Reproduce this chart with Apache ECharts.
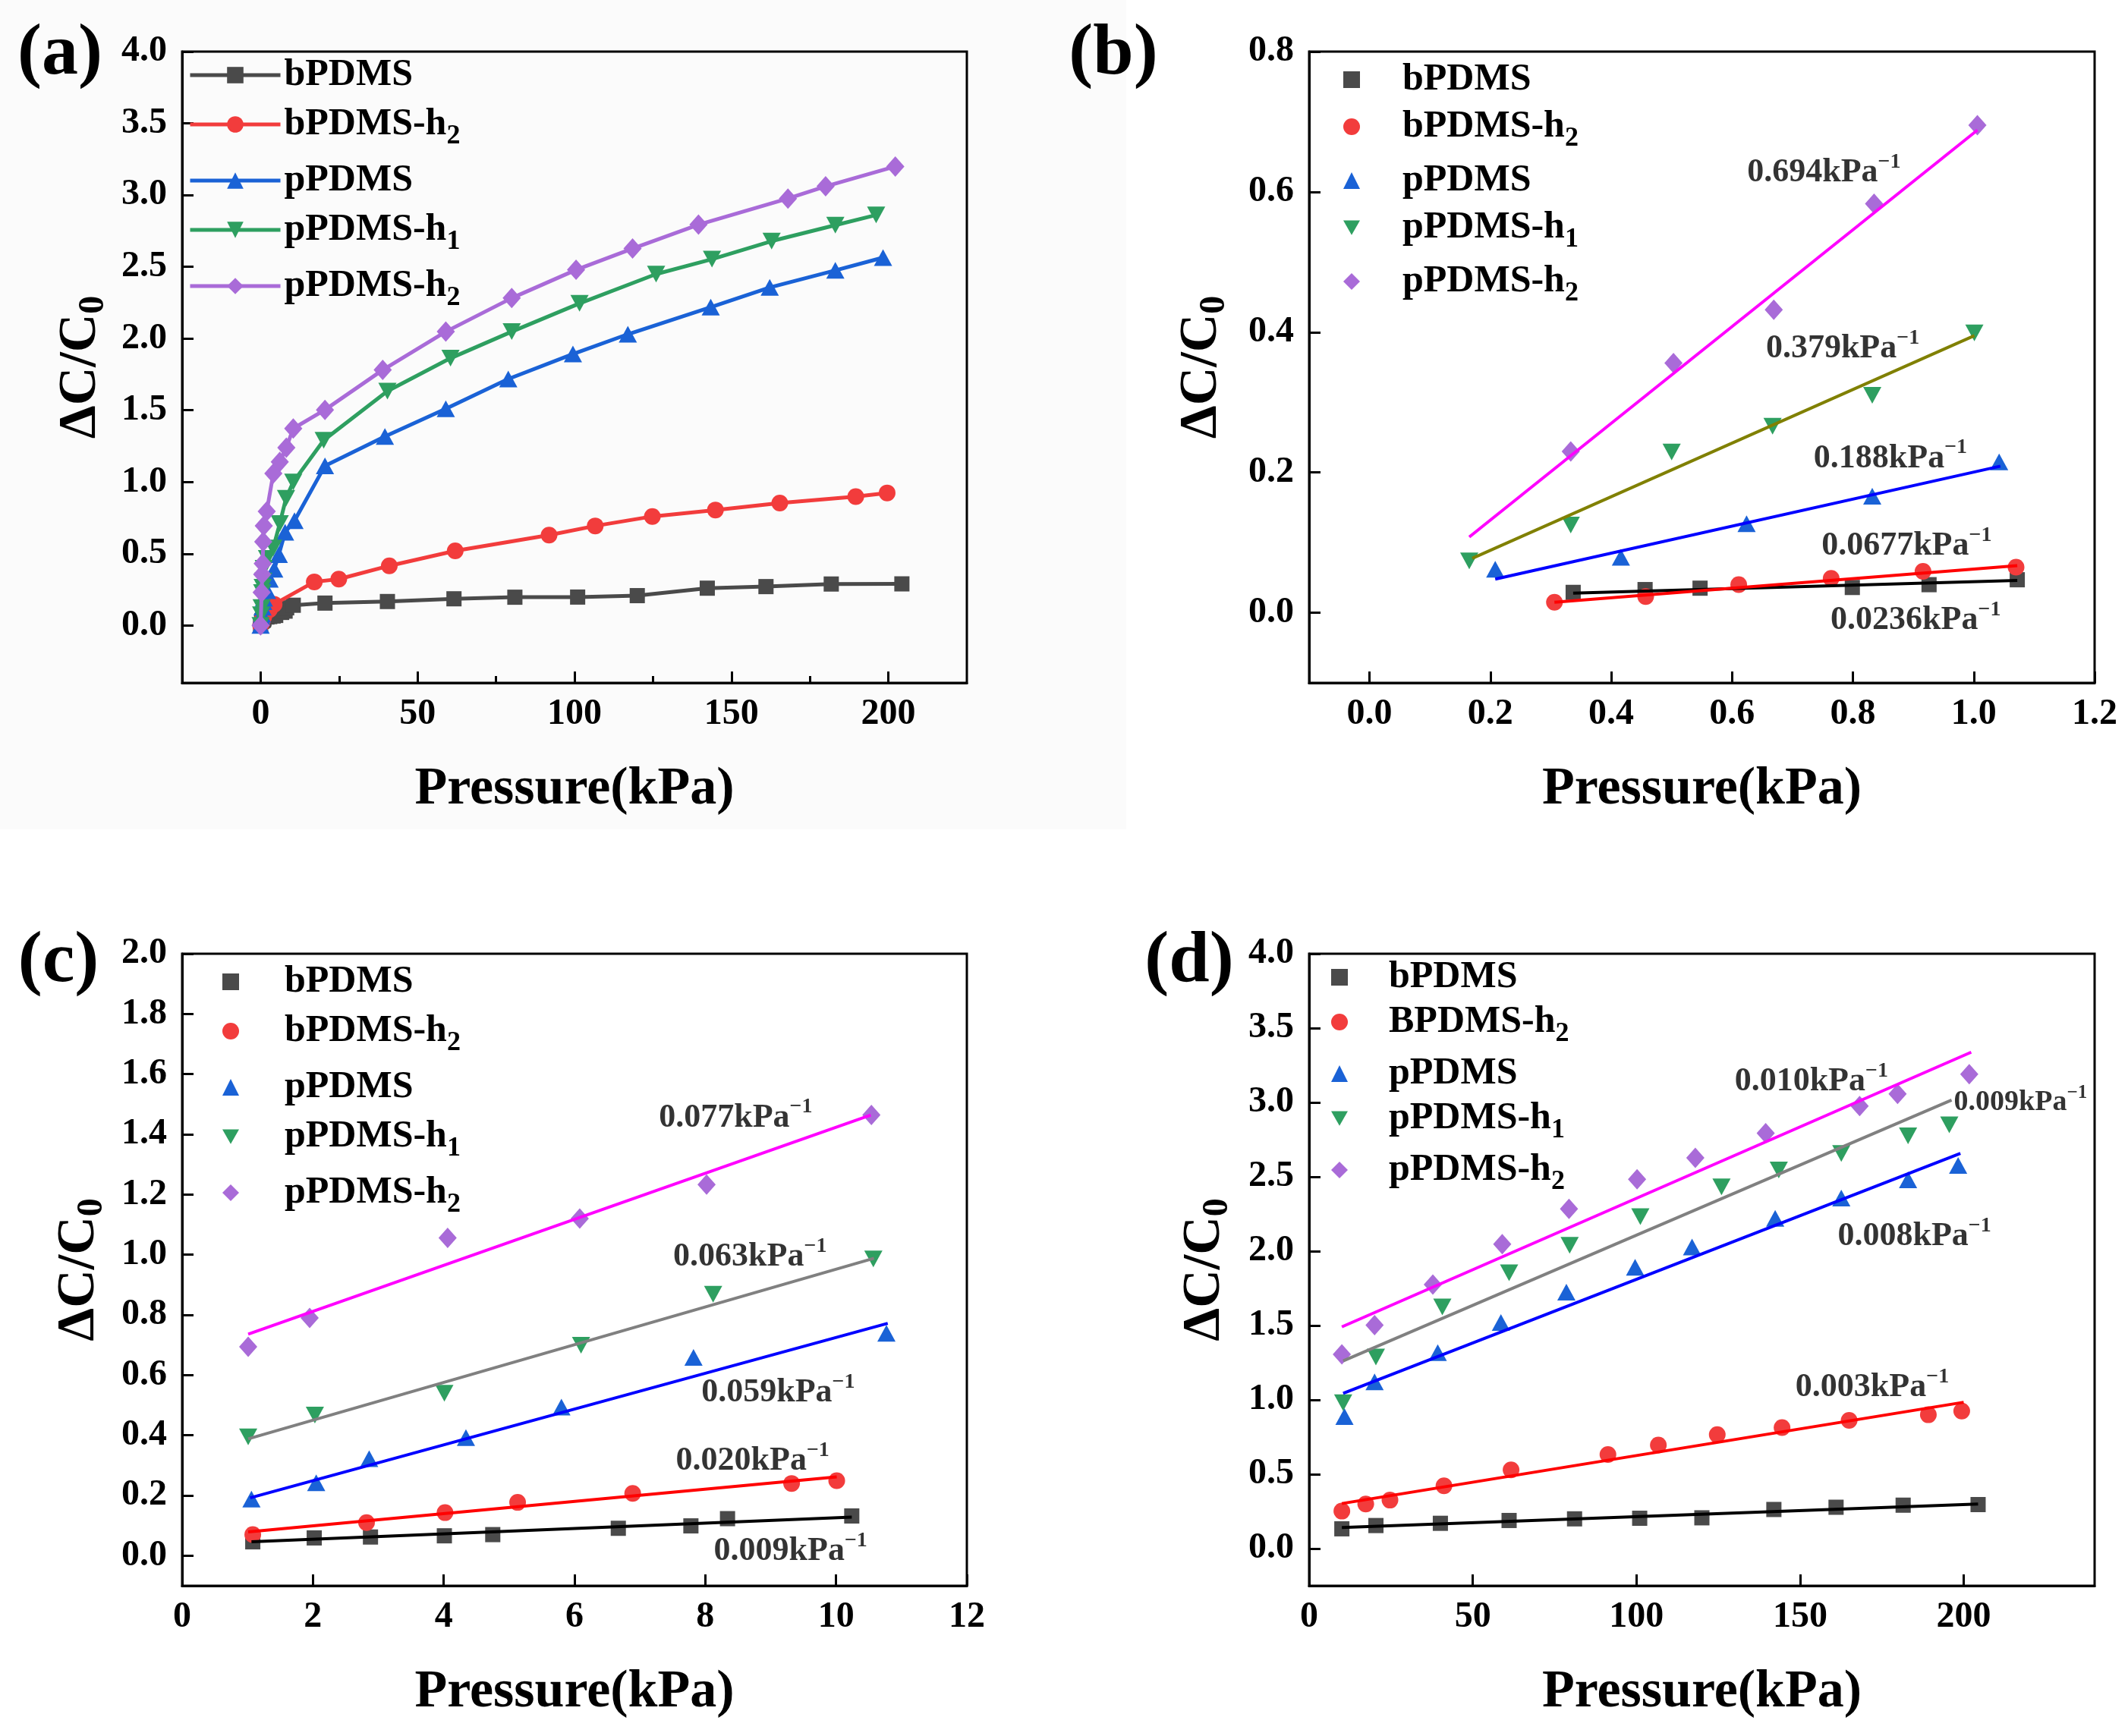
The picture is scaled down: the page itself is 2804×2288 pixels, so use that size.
<!DOCTYPE html>
<html>
<head>
<meta charset="utf-8">
<script src="https://cdn.jsdelivr.net/npm/echarts@6/dist/echarts.min.js"></script>
<style>
html, body { margin: 0; padding: 0; background: #fff; }
#chart { width: 2804px; height: 2288px; }
</style>
</head>
<body>
<div id="chart"></div>
<script>
var FONT = '"Liberation Serif", "Times New Roman", serif';

// series names, colours, markers
var NAMES = ['bPDMS', 'bPDMS-h2', 'pPDMS', 'pPDMS-h1', 'pPDMS-h2'];
var NAMES_D = ['bPDMS', 'BPDMS-h2', 'pPDMS', 'pPDMS-h1', 'pPDMS-h2'];
var COLORS = ['#4a4a4a', '#f23c3c', '#1a62d6', '#2e9f60', '#a96bd8'];
var DOWN = 'path://M0,0L24,0L12,21Z';
var SYMBOLS = ['rect', 'circle', 'triangle', DOWN, 'diamond'];
var SIZES = [20, 22, [24, 22], [24, 22], [24, 27]];
var FIT_B = ['#000000', '#ff0000', '#0000ff', '#808000', '#ff00ff'];
var FIT_CD = ['#000000', '#ff0000', '#0000ff', '#808080', '#ff00ff'];

// (a) full range, [pressure kPa, dC/C0]
var aBPDMS = [[0,0],[0.337,0.029],[0.456,0.033],[0.547,0.035],[0.799,0.036],[0.926,0.04],[1.07,0.047],[2.0,0.059],[2.9,0.062],[4.0,0.066],[4.8,0.07],[6.7,0.091],[7.8,0.1],[8.3,0.123],[10.4,0.141],[20.5,0.156],[40.4,0.167],[61.6,0.186],[81,0.197],[101,0.198],[120,0.208],[142.3,0.26],[161,0.271],[181.8,0.289],[204.3,0.29]];
var aBPDMSh2 = [[0,0],[0.306,0.015],[0.457,0.023],[0.611,0.04],[0.764,0.049],[0.916,0.059],[1.07,0.065],[2.8,0.11],[4.3,0.148],[17.1,0.304],[24.9,0.323],[41,0.416],[62,0.52],[91.9,0.63],[106.6,0.694],[124.8,0.76],[144.9,0.805],[165.4,0.853],[189.6,0.898],[199.6,0.924]];
var aPPDMS = [[0,0],[0.208,0.062],[0.416,0.079],[0.624,0.127],[0.832,0.166],[1.04,0.19],[2.05,0.242],[2.86,0.322],[4.34,0.392],[5.8,0.494],[7.8,0.65],[10.8,0.73],[20.5,1.113],[39.6,1.317],[59,1.51],[78.9,1.718],[99.5,1.892],[117,2.03],[143.4,2.219],[162.2,2.356],[183.1,2.475],[198.3,2.564]];
var aPPDMSh1 = [[0,0],[0.165,0.074],[0.333,0.125],[0.5,0.229],[0.667,0.266],[0.832,0.31],[1.0,0.399],[2.03,0.467],[4.01,0.54],[6.1,0.71],[8.1,0.887],[10.4,1.0],[20.1,1.291],[40.4,1.633],[60.5,1.863],[80,2.048],[101.6,2.245],[126,2.449],[143.8,2.553],[162.8,2.679],[183.1,2.79],[196.1,2.861]];
var aPPDMSh2 = [[0,0],[0.333,0.23],[0.503,0.356],[0.669,0.432],[0.835,0.583],[1.006,0.695],[1.95,0.795],[4.06,1.06],[6.1,1.14],[8.2,1.24],[10.4,1.373],[20.5,1.503],[38.9,1.781],[59,2.048],[80,2.282],[100.5,2.479],[118.5,2.627],[139.5,2.794],[168,2.976],[180,3.061],[202.2,3.199]];

// (b) 0-1 kPa
var bBPDMS = [[0.337,0.029],[0.456,0.033],[0.547,0.035],[0.799,0.036],[0.926,0.04],[1.072,0.047]];
var bBPDMSh2 = [[0.306,0.015],[0.457,0.023],[0.611,0.04],[0.764,0.049],[0.916,0.059],[1.07,0.065]];
var bPPDMS = [[0.208,0.062],[0.416,0.079],[0.624,0.127],[0.832,0.166],[1.042,0.215]];
var bPPDMSh1 = [[0.165,0.074],[0.333,0.125],[0.5,0.229],[0.667,0.266],[0.832,0.31],[1.001,0.399]];
var bPPDMSh2 = [[0.333,0.23],[0.503,0.356],[0.669,0.432],[0.835,0.583],[1.006,0.695]];
var bFits = [[[0.337,0.028],[1.072,0.046]], [[0.306,0.015],[1.072,0.067]], [[0.208,0.048],[1.044,0.209]], [[0.170,0.0775],[1.001,0.395]], [[0.165,0.108],[1.006,0.688]]];
var bSlopes = ['0.0236', '0.0677', '0.188', '0.379', '0.694'];

// (c) 1-10 kPa
var cBPDMS = [[1.08,0.046],[2.02,0.059],[2.88,0.062],[4.01,0.066],[4.75,0.07],[6.67,0.091],[7.78,0.099],[8.34,0.123],[10.24,0.132]];
var cBPDMSh2 = [[1.08,0.07],[2.82,0.11],[4.02,0.143],[5.13,0.177],[6.89,0.207],[9.32,0.24],[10.01,0.249]];
var cPPDMS = [[1.06,0.188],[2.05,0.242],[2.86,0.322],[4.34,0.392],[5.8,0.494],[7.82,0.659],[10.77,0.739]];
var cPPDMSh1 = [[1.01,0.395],[2.03,0.467],[4.01,0.54],[6.1,0.699],[8.12,0.869],[10.57,0.986]];
var cPPDMSh2 = [[1.01,0.694],[1.95,0.79],[4.06,1.056],[6.08,1.12],[8.02,1.233],[10.54,1.464]];
var cFits = [[[1.06,0.046],[10.24,0.128]], [[1.01,0.079],[10.01,0.262]], [[1.04,0.192],[10.79,0.772]], [[1.01,0.388],[10.58,0.988]], [[1.01,0.736],[10.53,1.464]]];
var cSlopes = ['0.009', '0.020', '0.059', '0.063', '0.077'];

// (d) 10-200 kPa
var dBPDMS = [[10,0.133],[20.4,0.155],[40.1,0.17],[61.1,0.189],[81.1,0.2],[101,0.204],[120,0.207],[142,0.263],[161,0.278],[181.5,0.292],[204.4,0.296]];
var dBPDMSh2 = [[10,0.252],[17.3,0.3],[24.7,0.326],[41.2,0.422],[61.7,0.529],[91.3,0.633],[106.7,0.696],[124.7,0.766],[144.5,0.814],[165,0.862],[189.2,0.9],[199.4,0.925]];
var dPPDMS = [[10.8,0.888],[20,1.121],[39.3,1.318],[58.6,1.521],[78.6,1.725],[99.6,1.891],[117,2.028],[142.4,2.221],[162.6,2.357],[183,2.48],[198.3,2.576]];
var dPPDMSh1 = [[10.4,0.981],[20.4,1.288],[40.7,1.625],[61.1,1.854],[79.6,2.039],[101.2,2.232],[126,2.432],[143.5,2.546],[162.6,2.657],[183,2.776],[195.6,2.85]];
var dPPDMSh2 = [[10,1.306],[20,1.503],[37.8,1.776],[59,2.047],[79.4,2.284],[100.2,2.483],[118,2.628],[139.5,2.794],[168.2,2.976],[179.8,3.057],[201.7,3.19]];
var dFits = [[[10,0.141],[204.4,0.3]], [[10,0.303],[200,0.984]], [[10.4,1.044],[199,2.657]], [[10.4,1.262],[196.3,3.016]], [[10,1.491],[202.3,3.338]]];
var dSlopes = ['0.003', '0.008', '0.009', '0.010'];

// tick values
var aXTicks = [0, 50, 100, 150, 200];
var aXMinor = [25, 75, 125, 175];
var aYTicks = [0, 0.5, 1, 1.5, 2, 2.5, 3, 3.5, 4];
var bXTicks = [0, 0.2, 0.4, 0.6, 0.8, 1.0, 1.2];
var bYTicks = [0, 0.2, 0.4, 0.6, 0.8];
var cXTicks = [0, 2, 4, 6, 8, 10, 12];
var cYTicks = [0, 0.2, 0.4, 0.6, 0.8, 1.0, 1.2, 1.4, 1.6, 1.8, 2.0];
var dXTicks = [0, 50, 100, 150, 200];
var dYTicks = [0, 0.5, 1, 1.5, 2, 2.5, 3, 3.5, 4];

// annotation placement (left edge, vertical middle) in data units
var bSlopeAt = [[0.763,-0.011],[0.748,0.095],[0.735,0.22],[0.656,0.376],[0.625,0.627]];
var cSlopeAt = [[8.13,0.015],[7.55,0.315],[7.94,0.54],[7.51,0.992],[7.29,1.455]];
var dSlopeAt = [[148.6,1.084],[161.5,2.10],[197,3.0],[130,3.14]];
var dSlopeSmall = [false, false, true, false];

var chart = echarts.init(document.getElementById('chart'), null, { renderer: 'canvas' });

var GRIDS = [
  { left: 240, top: 68, width: 1034, height: 832 },
  { left: 1725, top: 68, width: 1035, height: 832 },
  { left: 240, top: 1257, width: 1034, height: 833 },
  { left: 1725, top: 1257, width: 1035, height: 833 }
];

function bold(size) {
  return { fontFamily: FONT, fontWeight: 'bold', fontSize: size, color: '#000' };
}

function xAxisOf(grid, min, max, ticks, digits) {
  return {
    type: 'value', gridIndex: grid, min: min, max: max, position: 'bottom',
    name: 'Pressure(kPa)', nameLocation: 'middle', nameGap: 106, nameMoveOverlap: false,
    nameTextStyle: Object.assign(bold(70), { lineHeight: 70 }),
    axisLine: { show: true, onZero: false, lineStyle: { color: '#000', width: 3 } },
    axisTick: { show: true, inside: true, length: 15, customValues: ticks, lineStyle: { color: '#000', width: 3 } },
    axisLabel: Object.assign(bold(48), { margin: 18, customValues: ticks,
      formatter: function (v) { return (+v).toFixed(digits); } }),
    splitLine: { show: false }, minorTick: { show: false }
  };
}

function yAxisOf(grid, min, max, ticks, gap) {
  return {
    type: 'value', gridIndex: grid, min: min, max: max,
    name: '{m|\u0394C/C}{s|0}', nameLocation: 'middle', nameGap: gap, nameMoveOverlap: false,
    nameTextStyle: {
      rich: {
        m: Object.assign(bold(70), { lineHeight: 70 }),
        s: Object.assign(bold(48), { lineHeight: 83, verticalAlign: 'bottom' })
      }
    },
    axisLine: { show: true, onZero: false, lineStyle: { color: '#000', width: 3 } },
    axisTick: { show: true, inside: true, length: 15, customValues: ticks, lineStyle: { color: '#000', width: 3 } },
    axisLabel: Object.assign(bold(48), { margin: 20, customValues: ticks,
      formatter: function (v) { return (+v).toFixed(1); } }),
    splitLine: { show: false }
  };
}

var legendRich = {
  m: Object.assign(bold(50), { lineHeight: 50 }),
  s: Object.assign(bold(36), { lineHeight: 68, verticalAlign: 'bottom' })
};

function legendText(name) {
  var s = name.split('#')[1];
  var m = s.match(/^(.*-h)(\d)$/);
  return m ? '{m|' + m[1] + '}{s|' + m[2] + '}' : '{m|' + s + '}';
}

function legendOf(prefix, names, left, top, gap, itemWidth, itemHeight, textShift) {
  return {
    data: names.map(function (n) { return prefix + '#' + n; }),
    orient: 'vertical', left: left, top: top, padding: 0, itemGap: gap,
    itemWidth: itemWidth, itemHeight: itemHeight, selectedMode: false,
    lineStyle: { width: 5 },
    formatter: legendText,
    textStyle: { rich: legendRich, padding: [0, 0, 0, textShift] }
  };
}

var series = [];

// panel (a): lines with markers
[aBPDMS, aBPDMSh2, aPPDMS, aPPDMSh1, aPPDMSh2].forEach(function (d, i) {
  series.push({
    type: 'line', name: 'a#' + NAMES[i], xAxisIndex: 0, yAxisIndex: 0, data: d,
    symbol: SYMBOLS[i], symbolSize: SIZES[i], showAllSymbol: true,
    lineStyle: { color: COLORS[i], width: 5 }, itemStyle: { color: COLORS[i] },
    z: 3 + i
  });
});

// panels (b)-(d): markers, linear fits, slope labels
function scatterPanel(prefix, names, axis, sets, fits, fitColors, slopes, slopeAt, small) {
  sets.forEach(function (d, i) {
    series.push({
      type: 'scatter', name: prefix + '#' + names[i], xAxisIndex: axis, yAxisIndex: axis - 1, data: d,
      symbol: SYMBOLS[i], symbolSize: SIZES[i], itemStyle: { color: COLORS[i], opacity: 1 }, z: 3
    });
  });
  fits.forEach(function (d, i) {
    series.push({
      type: 'line', name: prefix + ' fit ' + i, xAxisIndex: axis, yAxisIndex: axis - 1, data: d,
      symbol: 'none', lineStyle: { color: fitColors[i], width: 4 }, silent: true, z: 4
    });
  });
  series.push({
    type: 'scatter', name: prefix + ' slopes', xAxisIndex: axis, yAxisIndex: axis - 1, silent: true,
    symbolSize: 0, z: 6,
    data: slopeAt.map(function (p, i) { return [p[0], p[1], slopes[i]]; }),
    label: {
      show: true, position: 'right', distance: 0,
      formatter: function (p) {
        var sm = small && small[p.dataIndex];
        return sm ? '{ms|' + p.value[2] + 'kPa}{us|\u22121}' : '{m|' + p.value[2] + 'kPa}{u|\u22121}';
      },
      rich: {
        m: Object.assign(bold(44), { lineHeight: 56 }),
        u: Object.assign(bold(28), { verticalAlign: 'top' }),
        ms: Object.assign(bold(38), { lineHeight: 50 }),
        us: Object.assign(bold(25), { verticalAlign: 'top' })
      }
    }
  });
}

scatterPanel('b', NAMES, 2, [bBPDMS, bBPDMSh2, bPPDMS, bPPDMSh1, bPPDMSh2], bFits, FIT_B, bSlopes, bSlopeAt, null);
scatterPanel('c', NAMES, 3, [cBPDMS, cBPDMSh2, cPPDMS, cPPDMSh1, cPPDMSh2], cFits, FIT_CD, cSlopes, cSlopeAt, null);
// (d) has no slope label on the black fit
scatterPanel('d', NAMES_D, 4, [dBPDMS, dBPDMSh2, dPPDMS, dPPDMSh1, dPPDMSh2], dFits, FIT_CD, dSlopes, dSlopeAt, dSlopeSmall);

// minor ticks of panel (a) x axis sit on a second, label-less axis
var minorAxis = xAxisOf(0, -25, 225, aXMinor, 0);
minorAxis.name = '';
minorAxis.axisLine = { show: false, onZero: false };
minorAxis.axisLabel = { show: false };
minorAxis.axisTick = { show: true, inside: true, length: 9, customValues: aXMinor, lineStyle: { color: '#000', width: 3 } };

function panelLabel(text, x, y) {
  return { type: 'text', x: x, y: y, style: { text: text, font: 'bold 96px ' + FONT, fill: '#000',
    align: 'center', verticalAlign: 'middle', textAlign: 'center', textVerticalAlign: 'middle' } };
}

var option = {
  animation: false,
  backgroundColor: '#ffffff',
  grid: GRIDS.map(function (g) {
    return Object.assign({ show: true, borderColor: '#000', borderWidth: 3, backgroundColor: 'transparent',
      containLabel: false, outerBoundsMode: 'none' }, g);
  }),
  xAxis: [
    xAxisOf(0, -25, 225, aXTicks, 0),
    minorAxis,
    xAxisOf(1, -0.1, 1.2, bXTicks, 1),
    xAxisOf(2, 0, 12, cXTicks, 0),
    xAxisOf(3, 0, 240, dXTicks, 0)
  ],
  yAxis: [
    yAxisOf(0, -0.4, 4.0, aYTicks, 92),
    yAxisOf(1, -0.1, 0.8, bYTicks, 100),
    yAxisOf(2, -0.1, 2.0, cYTicks, 94),
    yAxisOf(3, -0.25, 4.0, dYTicks, 96)
  ],
  legend: [
    legendOf('a', NAMES, 248, 74, 15, 119, 27, 0),
    legendOf('b', NAMES, 1770, 80, 12, 22, 22, 51),
    legendOf('c', NAMES, 293, 1269, 15, 22, 22, 55),
    legendOf('d', NAMES_D, 1754, 1263, 9, 22, 22, 49)
  ],
  graphic: [
    { type: 'rect', z: -100, shape: { x: 0, y: 0, width: 1484, height: 1093 }, style: { fill: '#fbfbfb' } },
    panelLabel('(a)', 79, 72),
    panelLabel('(b)', 1467, 72),
    panelLabel('(c)', 77, 1268),
    panelLabel('(d)', 1567, 1268)
  ],
  series: series
};

chart.setOption(option);
</script>
</body>
</html>
